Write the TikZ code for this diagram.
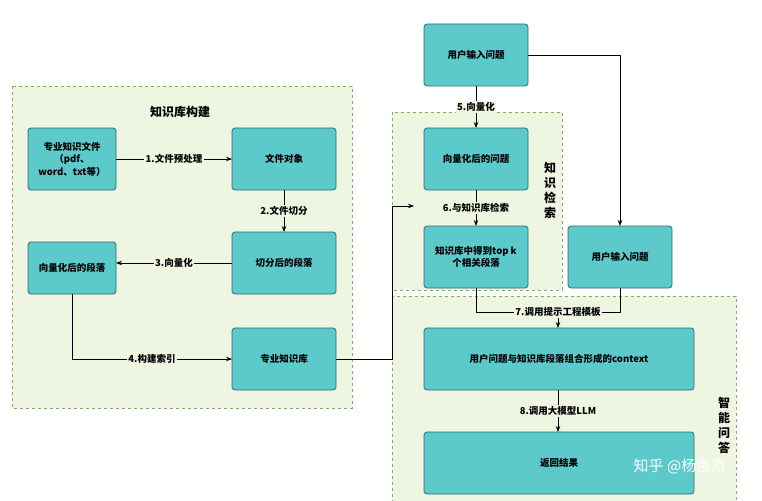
\documentclass[tikz,border=0pt]{standalone}
\usepackage{fontspec}
\setmainfont{Noto Sans CJK SC}
\usetikzlibrary{arrows.meta}
\definecolor{boxf}{HTML}{5CC9CB}
\definecolor{boxd}{HTML}{2E6E70}
\definecolor{regf}{HTML}{EEF6E2}
\definecolor{regd}{HTML}{7FAF5F}
\begin{document}
\begin{tikzpicture}[x=1pt,y=-1pt,
  box/.style={draw=boxd,fill=boxf,rounded corners=3pt,line width=0.8pt,align=center,font=\fontsize{9.5}{12.5}\selectfont\bfseries},
  reg/.style={draw=regd,fill=regf,dashed,line width=0.7pt},
  arr/.style={-{Stealth[length=6pt]},line width=0.8pt},
  lab/.style={fill=regf,inner sep=1.5pt,font=\fontsize{9.5}{11}\selectfont\bfseries},
  ttl/.style={font=\fontsize{12}{15}\selectfont\bfseries,align=center}]
\useasboundingbox (0,0) rectangle (762,500);
\fill[white] (0,0) rectangle (762,500);
\draw[reg] (12,86) rectangle (352,408);
\draw[reg] (392,112) rectangle (562,290);
\draw[reg] (392,296) rectangle (736,505);
\node[ttl] (t1) at (180,112) {知识库构建};
\node[ttl] (t2) at (550,190) {知\\识\\检\\索};
\node[ttl] (t3) at (724,425) {智\\能\\问\\答};
\path[box] (28,128) rectangle (116,190); \node[box,draw=none,fill=none] (a) at (72,159) {专业知识文件\\（pdf、\\word、txt等）};
\path[box] (232,128) rectangle (336,190); \node[box,draw=none,fill=none] (b) at (284,159) {文件对象};
\path[box] (232,232) rectangle (336,294); \node[box,draw=none,fill=none] (c) at (284,263) {切分后的段落};
\path[box] (28,242) rectangle (116,294); \node[box,draw=none,fill=none] (d) at (72,268) {向量化后的段落};
\path[box] (232,328) rectangle (336,390); \node[box,draw=none,fill=none] (e) at (284,359) {专业知识库};
\path[box] (424,24) rectangle (528,86); \node[box,draw=none,fill=none] (f) at (476,55) {用户输入问题};
\path[box] (424,128) rectangle (528,190); \node[box,draw=none,fill=none] (g) at (476,159) {向量化后的问题};
\path[box] (424,226) rectangle (528,288); \node[box,draw=none,fill=none] (h) at (476,257) {知识库中得到top k\\个相关段落};
\path[box] (568,226) rectangle (672,288); \node[box,draw=none,fill=none] (i) at (620,257) {用户输入问题};
\path[box] (424,328) rectangle (694,390); \node[box,draw=none,fill=none] (j) at (559,359) {用户问题与知识库段落组合形成的context};
\path[box] (424,432) rectangle (694,494); \node[box,draw=none,fill=none] (k) at (559,463) {返回结果};
\coordinate (aE) at (116,159); \coordinate (bW) at (232,159);
\coordinate (bS) at (284,190); \coordinate (cN) at (284,232);
\coordinate (cW) at (232,263); \coordinate (dE) at (116,263);
\coordinate (dS) at (72,294); \coordinate (eW) at (232,359); \coordinate (eE) at (336,359);
\coordinate (fS) at (476,86); \coordinate (gN) at (476,128); \coordinate (fE) at (528,55);
\coordinate (gS) at (476,190); \coordinate (hN) at (476,226); \coordinate (iN) at (620,226);
\coordinate (hS) at (476,288); \coordinate (iS) at (620,288); \coordinate (jN) at (558,328);
\coordinate (jS) at (558,390); \coordinate (kN) at (558,432); \coordinate (m) at (558,312);
\draw[arr] (aE) -- node[lab] {1.文件预处理} (bW);
\draw[arr] (bS) -- node[lab] {2.文件切分} (cN);
\draw[arr] (cW) -- node[lab] {3.向量化} (dE);
\draw[arr] (dS) |- node[lab,pos=0.75] {4.构建索引} (eW);
\draw[arr] (fS) -- node[lab] {5.向量化} (gN);
\draw[arr] (fE) -| (iN);
\draw[arr] (eE) -- (392,359) -- (392,206) -- (414,206);
\draw[arr] (gS) -- node[lab] {6.与知识库检索} (hN);
\draw[line width=0.8pt] (hS) |- (m) -| (iS);
\draw[arr] (m) -- (jN);
\node[lab] (l7) at (558,312) {7.调用提示工程模板};
\draw[arr] (jS) -- node[lab] {8.调用大模型LLM} (kN);
\node[text=white,font=\fontsize{15}{18}\selectfont] (w) at (680,466) {知乎 @杨京京};
\end{tikzpicture}
\end{document}
